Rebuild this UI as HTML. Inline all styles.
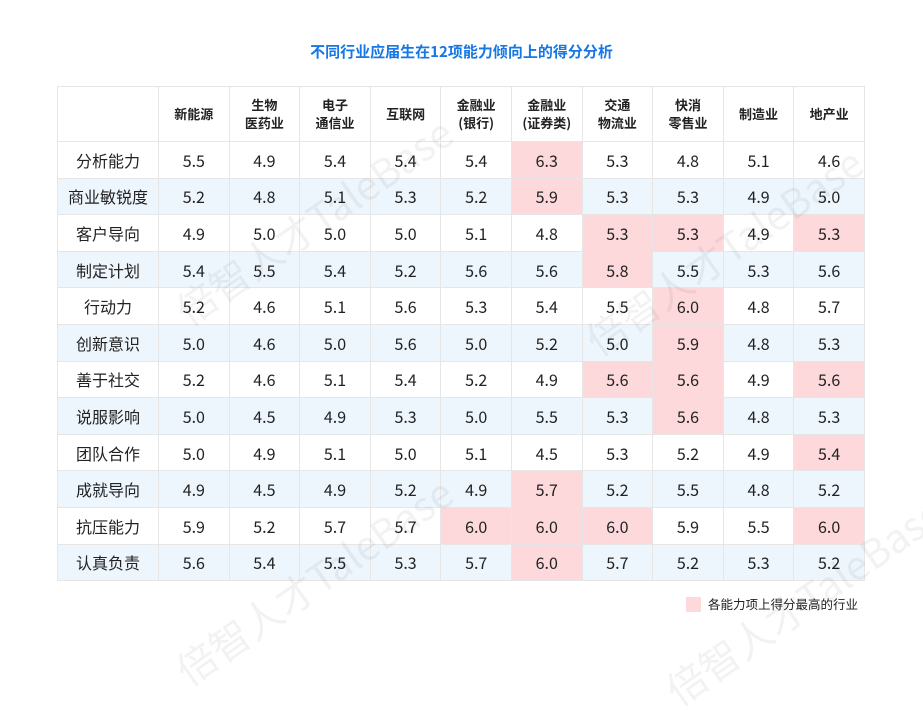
<!DOCTYPE html>
<html><head><meta charset="utf-8"><style>
body{margin:0;width:923px;height:633px;background:#fff;position:relative;overflow:hidden;font-family:"Noto Sans CJK SC","Liberation Sans",sans-serif;}
.title{position:absolute;left:0;width:923px;top:42px;text-align:center;color:#1677e5;font-size:15px;font-weight:bold;line-height:20px;}
table{position:absolute;left:57px;top:86px;border-collapse:collapse;table-layout:fixed;width:807px;}
td{border:1px solid #e6e6e6;text-align:center;vertical-align:middle;color:#222;font-size:16px;line-height:20px;height:35.6px;padding:0;}
tr.h td{height:54px;font-size:13px;font-weight:bold;line-height:18px;color:#222;}
tr.b td{background:#edf5fd;}
td.p,tr.b td.p{background:#fdd9dc;}
.wm{position:absolute;color:rgba(0,0,0,0.05);font-size:40px;transform:rotate(-35deg);white-space:nowrap;line-height:40px;}
.leg{position:absolute;left:686px;top:597px;width:15px;height:15px;background:#fdd9dc;}
.legt{position:absolute;left:708px;top:595px;font-size:12.5px;line-height:18px;color:#222;}
</style></head><body>
<div class="title">不同行业应届生在12项能力倾向上的得分分析</div>
<table>
<colgroup><col style="width:101px"><col span="10" style="width:70.6px"></colgroup>
<tr class="h"><td></td><td>新能源</td><td>生物<br>医药业</td><td>电子<br>通信业</td><td>互联网</td><td>金融业<br>(银行)</td><td>金融业<br>(证券类)</td><td>交通<br>物流业</td><td>快消<br>零售业</td><td>制造业</td><td>地产业</td></tr>
<tr><td>分析能力</td><td>5.5</td><td>4.9</td><td>5.4</td><td>5.4</td><td>5.4</td><td class="p">6.3</td><td>5.3</td><td>4.8</td><td>5.1</td><td>4.6</td></tr>
<tr class="b"><td>商业敏锐度</td><td>5.2</td><td>4.8</td><td>5.1</td><td>5.3</td><td>5.2</td><td class="p">5.9</td><td>5.3</td><td>5.3</td><td>4.9</td><td>5.0</td></tr>
<tr><td>客户导向</td><td>4.9</td><td>5.0</td><td>5.0</td><td>5.0</td><td>5.1</td><td>4.8</td><td class="p">5.3</td><td class="p">5.3</td><td>4.9</td><td class="p">5.3</td></tr>
<tr class="b"><td>制定计划</td><td>5.4</td><td>5.5</td><td>5.4</td><td>5.2</td><td>5.6</td><td>5.6</td><td class="p">5.8</td><td>5.5</td><td>5.3</td><td>5.6</td></tr>
<tr><td>行动力</td><td>5.2</td><td>4.6</td><td>5.1</td><td>5.6</td><td>5.3</td><td>5.4</td><td>5.5</td><td class="p">6.0</td><td>4.8</td><td>5.7</td></tr>
<tr class="b"><td>创新意识</td><td>5.0</td><td>4.6</td><td>5.0</td><td>5.6</td><td>5.0</td><td>5.2</td><td>5.0</td><td class="p">5.9</td><td>4.8</td><td>5.3</td></tr>
<tr><td>善于社交</td><td>5.2</td><td>4.6</td><td>5.1</td><td>5.4</td><td>5.2</td><td>4.9</td><td class="p">5.6</td><td class="p">5.6</td><td>4.9</td><td class="p">5.6</td></tr>
<tr class="b"><td>说服影响</td><td>5.0</td><td>4.5</td><td>4.9</td><td>5.3</td><td>5.0</td><td>5.5</td><td>5.3</td><td class="p">5.6</td><td>4.8</td><td>5.3</td></tr>
<tr><td>团队合作</td><td>5.0</td><td>4.9</td><td>5.1</td><td>5.0</td><td>5.1</td><td>4.5</td><td>5.3</td><td>5.2</td><td>4.9</td><td class="p">5.4</td></tr>
<tr class="b"><td>成就导向</td><td>4.9</td><td>4.5</td><td>4.9</td><td>5.2</td><td>4.9</td><td class="p">5.7</td><td>5.2</td><td>5.5</td><td>4.8</td><td>5.2</td></tr>
<tr><td>抗压能力</td><td>5.9</td><td>5.2</td><td>5.7</td><td>5.7</td><td class="p">6.0</td><td class="p">6.0</td><td class="p">6.0</td><td>5.9</td><td>5.5</td><td class="p">6.0</td></tr>
<tr class="b"><td>认真负责</td><td>5.6</td><td>5.4</td><td>5.5</td><td>5.3</td><td>5.7</td><td class="p">6.0</td><td>5.7</td><td>5.2</td><td>5.3</td><td>5.2</td></tr>
</table>
<div class="wm" style="left:150px;top:200px;">倍智人才TaleBase</div>
<div class="wm" style="left:560px;top:230px;">倍智人才TaleBase</div>
<div class="wm" style="left:150px;top:560px;">倍智人才TaleBase</div>
<div class="wm" style="left:640px;top:580px;">倍智人才TaleBase</div>
<div class="leg"></div>
<div class="legt">各能力项上得分最高的行业</div>
</body></html>
